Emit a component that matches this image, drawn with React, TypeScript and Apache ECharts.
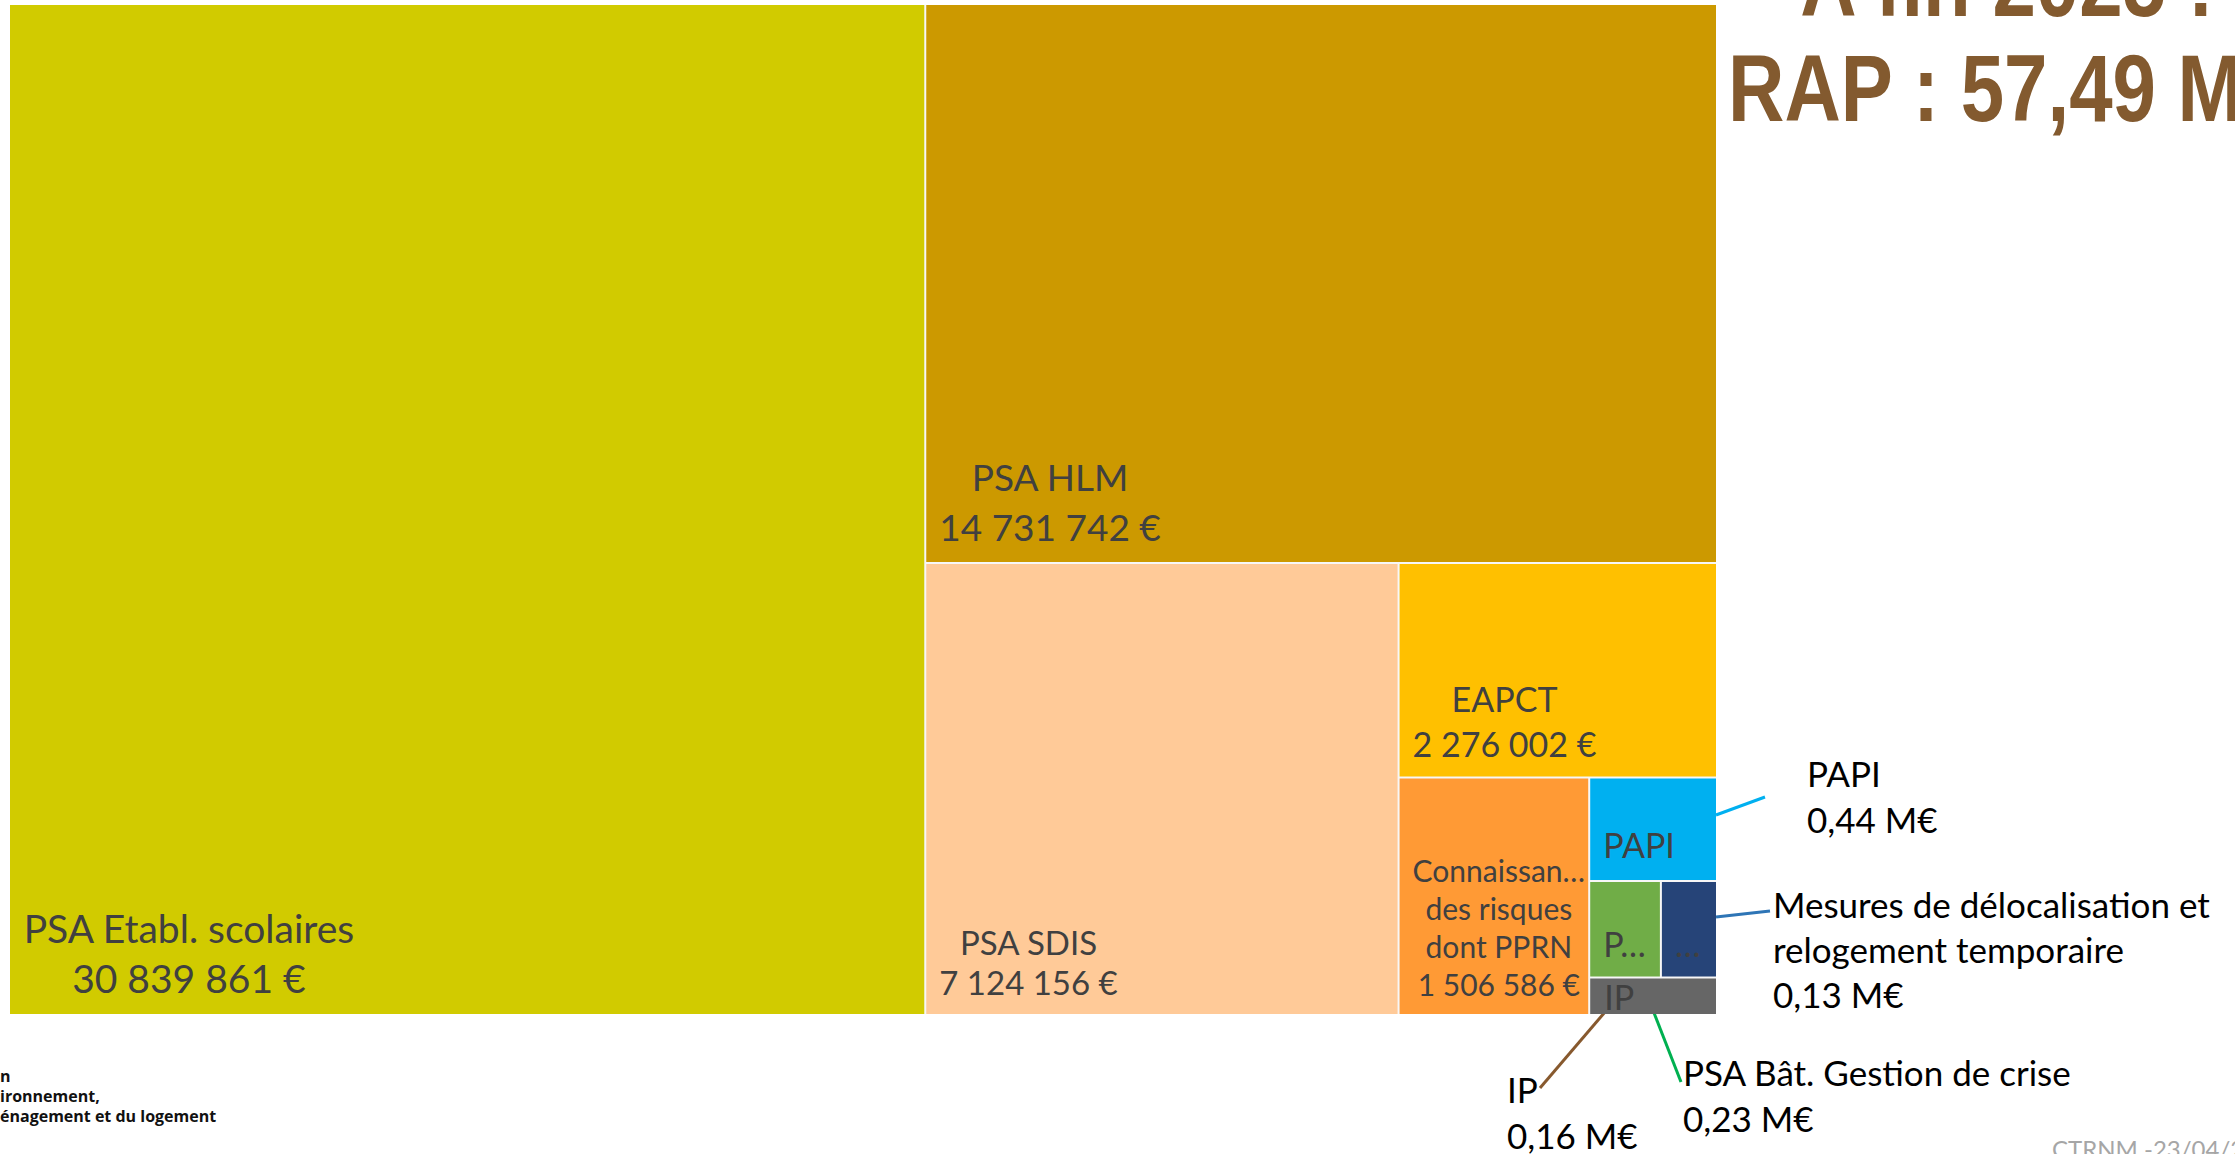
import { useEffect, useRef } from 'react';
import * as echarts from 'echarts';

// ---------- data ----------
const names = [
  'PSA Etabl. scolaires',
  'PSA HLM',
  'PSA SDIS',
  'EAPCT',
  'Connaissance des risques dont PPRN',
  'PAPI',
  'PSA Bât. Gestion de crise',
  'Mesures de délocalisation et relogement temporaire',
  'IP',
];
const values = [30839861, 14731742, 7124156, 2276002, 1506586, 440000, 230000, 180000, 160000];
// text shown inside each cell (truncated as in the picture)
const cellLabels = [
  'PSA Etabl. scolaires',
  'PSA HLM',
  'PSA SDIS',
  'EAPCT',
  'Connaissan…\ndes risques\ndont PPRN',
  'PAPI',
  'P…',
  '…',
  'IP',
];
const showValue = [true, true, true, true, true, false, false, false, false];

const titleFirstLine = 'A fin 2025 :';
const calloutTexts = [
  ['PAPI', '0,44 M€'],
  ['Mesures de délocalisation et', 'relogement temporaire', '0,13 M€'],
  ['IP', '0,16 M€'],
  ['PSA Bât. Gestion de crise', '0,23 M€'],
];
const logoLines = ['n', 'ironnement,', 'énagement et du logement'];
const footerText = 'CTRNM -23/04/2025';

// ---------- styles ----------
const palette = ['#D1CB00', '#CC9900', '#FFCA98', '#FFC000', '#FF9A35', '#00B0F0', '#70AD47', '#264478', '#666666'];
const cellFontSizes = [39, 37, 33, 34, 30, 34, 34, 34, 34];
const cellLineHeights = [50, 50, 40, 45, 38, 40, 40, 40, 30];
const cellBottomGaps = [21, 21, 19, 20, 18, 22, 20, 20, 0];
const labelColor = '#404040';
const calloutColors = ['#00B0F0', '#2E75B6', '#87592E', '#00B050'];

const fmtEuro = (v: number) => String(v).replace(/\B(?=(\d{3})+(?!\d))/g, ' ') + ' €';

let measureCtx: CanvasRenderingContext2D | null = null;
function blockWidth(text: string, size: number) {
  if (!measureCtx) measureCtx = document.createElement('canvas').getContext('2d');
  const ctx = measureCtx!;
  ctx.font = `${size}px Lato`;
  return Math.max(...text.split('\n').map((l) => ctx.measureText(l).width));
}

function buildOption() {
  const textByName: Record<string, string> = {};
  const data = names.map((name, i) => {
    const text = cellLabels[i] + (showValue[i] ? '\n' + fmtEuro(values[i]) : '');
    textByName[name] = text;
    const fs = cellFontSizes[i];
    const lh = cellLineHeights[i];
    const overflowTop = i === names.length - 1;
    const w = blockWidth(text, fs);
    const label = overflowTop
      ? { position: [14, 3], align: 'left', verticalAlign: 'top', fontSize: fs, lineHeight: lh }
      : {
          position: [13 + w / 2, '100%'],
          align: 'center',
          verticalAlign: 'bottom',
          offset: [0, -(cellBottomGaps[i] + 0.387 * fs - lh / 2)],
          fontSize: fs,
          lineHeight: lh,
        };
    return { name, value: values[i], itemStyle: { color: palette[i] }, label };
  });

  const total = values.reduce((a, b) => a + b, 0);
  const titleText = titleFirstLine + '\nRAP : ' + (total / 1e6).toFixed(2).replace('.', ',') + ' M€';

  const calloutPos = [
    { x: 1807, y: 750, lh: 46, line: [1716, 815, 1765, 797] },
    { x: 1773, y: 881, lh: 45, line: [1716, 917, 1770, 911] },
    { x: 1507, y: 1066, lh: 46, line: [1540, 1088, 1605, 1012] },
    { x: 1683, y: 1049, lh: 46, line: [1681, 1082, 1640, 977] },
  ];

  const elements: any[] = [];
  calloutPos.forEach((p, i) => {
    elements.push({
      type: 'line',
      z: 0,
      shape: { x1: p.line[0], y1: p.line[1], x2: p.line[2], y2: p.line[3] },
      style: { stroke: calloutColors[i], lineWidth: 3 },
    });
    elements.push({
      type: 'text',
      x: p.x,
      y: p.y,
      style: {
        text: calloutTexts[i].join('\n'),
        font: '35px Lato',
        fill: '#000000',
        lineHeight: p.lh,
        align: 'left',
        verticalAlign: 'top',
      },
    });
  });

  elements.push({
    type: 'text',
    x: 2007,
    y: -69,
    scaleX: 0.83,
    style: {
      text: titleText,
      font: 'bold 94px "Liberation Sans", Arial, sans-serif',
      fill: '#835A2F',
      lineHeight: 105,
      align: 'center',
      verticalAlign: 'top',
    },
  });

  const logoY = [1066, 1086, 1106];
  logoLines.forEach((t, i) => {
    elements.push({
      type: 'text',
      x: 0,
      y: logoY[i],
      style: { text: t, font: 'bold 16px "Open Sans"', fill: '#111111', align: 'left', verticalAlign: 'top', lineHeight: 20 },
    });
  });

  elements.push({
    type: 'text',
    x: 2052,
    y: 1136,
    style: { text: footerText, font: '24px Lato', fill: '#A6A6A6', align: 'left', verticalAlign: 'top', lineHeight: 24 },
  });

  return {
    animation: false,
    backgroundColor: '#ffffff',
    series: [
      {
        type: 'treemap',
        left: 10,
        top: 5,
        width: 1706,
        height: 1009,
        squareRatio: 1,
        roam: false,
        nodeClick: false,
        drillDownIcon: '',
        breadcrumb: { show: false },
        sort: 'desc',
        visibleMin: 0,
        itemStyle: { borderWidth: 0, gapWidth: 2, borderColor: '#f7f7f7' },
        emphasis: { disabled: true },
        label: {
          show: true,
          padding: 0,
          color: labelColor,
          fontFamily: 'Lato',
          formatter: (p: any) => textByName[p.name] ?? '',
        },
        data,
      },
    ],
    graphic: { elements },
  };
}

export default function App() {
  const ref = useRef<HTMLDivElement>(null);
  useEffect(() => {
    const chart = echarts.init(ref.current!, null, { renderer: 'svg' });
    chart.setOption(buildOption() as any);
    return () => chart.dispose();
  }, []);
  return (
    <div
      ref={ref}
      style={{ position: 'fixed', left: 0, top: 0, width: 2235, height: 1154, background: '#ffffff' }}
    />
  );
}
